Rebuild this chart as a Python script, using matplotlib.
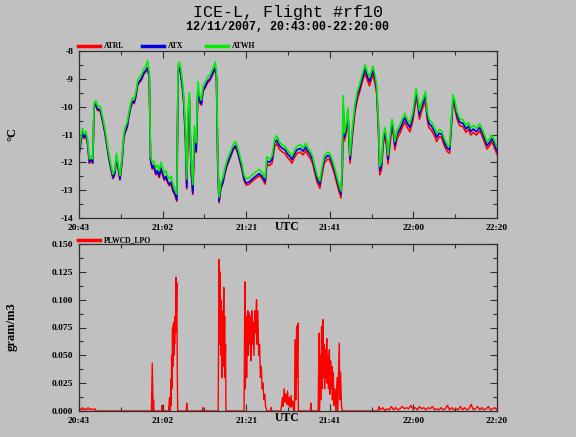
import matplotlib
matplotlib.use("Agg")
import matplotlib.pyplot as plt
from matplotlib.lines import Line2D
from matplotlib.ticker import MultipleLocator, FormatStrFormatter
import numpy as np

# ---------------- data ----------------
TITLE = "ICE-L, Flight #rf10"
SUBTITLE = "12/11/2007, 20:43:00-22:20:00"
TICK_LABELS = ["20:43", "21:02", "21:21", "21:41", "22:00", "22:20"]
SERIES_TOP = ["ATRL", "ATX", "ATWH"]
SERIES_BOT = ["PLWCD_LPO"]

# minutes after 20:43
T_TEMP = [
    0.0, 0.4, 0.8, 1.2, 1.6, 2.0, 2.4, 2.8, 3.2, 3.5,
    3.9, 4.3, 4.9, 5.5, 6.0, 6.4, 6.9, 7.4, 7.9, 8.3,
    8.7, 9.1, 9.5, 10.0, 10.4, 10.7, 11.2, 11.6, 12.0, 12.4,
    12.8, 13.2, 13.6, 14.0, 14.5, 15.0, 15.5, 15.9, 16.3, 16.6,
    17.0, 17.4, 17.8, 18.2, 18.6, 19.0, 19.4, 19.8, 20.2, 20.6,
    21.0, 21.4, 21.8, 22.2, 22.7, 23.0, 23.3, 23.6, 24.0, 24.3,
    24.7, 25.0, 25.3, 25.6, 26.0, 26.4, 26.8, 27.2, 27.6, 28.0,
    28.4, 28.8, 29.2, 29.8, 30.4, 31.0, 31.6, 31.9, 32.2, 32.5,
    32.9, 33.4, 33.8, 34.3, 34.8, 35.3, 35.8, 36.3, 36.8, 37.3,
    37.8, 38.3, 38.8, 39.5, 40.2, 41.0, 41.8, 42.5, 43.2, 43.6,
    44.2, 44.8, 45.4, 45.9, 46.5, 47.2, 47.8, 48.4, 49.0, 49.4,
    50.0, 50.6, 51.3, 52.0, 52.6, 53.1, 53.6, 54.2, 54.8, 55.3,
    55.9, 56.4, 56.9, 57.4, 57.8, 58.2, 58.7, 59.3, 59.8, 60.3,
    60.8, 61.1, 61.3, 61.6, 62.0, 62.4, 62.9, 63.4, 64.0, 64.6,
    65.2, 65.7, 66.1, 66.4, 66.9, 67.4, 67.8, 68.2, 68.7, 69.1,
    69.5, 69.8, 70.2, 70.6, 71.0, 71.4, 71.7, 72.1, 72.6, 73.0,
    73.3, 73.8, 74.5, 75.0, 75.6, 76.2, 76.8, 77.4, 77.9, 78.2,
    78.6, 79.0, 79.5, 80.0, 80.4, 80.8, 81.2, 81.8, 82.5, 83.0,
    83.6, 84.2, 84.8, 85.5, 86.0, 86.4, 86.8, 87.2, 87.7, 88.3,
    89.1, 89.8, 90.4, 90.9, 91.5, 92.2, 93.0, 93.6, 94.2, 94.7,
    95.2, 95.8, 96.3, 97.0,
]

ATX = [
    -11.70, -11.30, -10.90, -11.10, -11.00, -11.30, -12.00, -11.90, -12.00, -10.00,
    -9.90, -10.10, -10.10, -10.50, -10.90, -11.30, -11.80, -12.20, -12.55, -12.40,
    -11.80, -12.20, -12.60, -11.90, -11.10, -10.90, -10.70, -10.30, -10.00, -9.80,
    -9.85, -9.60, -9.20, -9.10, -9.00, -8.80, -8.70, -8.60, -8.90, -11.90,
    -12.20, -12.10, -12.40, -12.30, -12.50, -12.20, -12.40, -12.60, -12.50, -12.70,
    -12.80, -12.70, -13.00, -13.10, -13.35, -8.70, -8.60, -8.80, -9.30, -9.80,
    -11.10, -12.90, -10.50, -9.70, -12.20, -13.10, -11.00, -11.60, -9.30, -9.80,
    -9.90, -9.40, -9.30, -9.10, -9.00, -8.80, -8.60, -8.90, -12.00, -13.40,
    -12.90, -12.70, -12.40, -12.10, -11.90, -11.70, -11.50, -11.40, -11.60, -11.90,
    -12.20, -12.60, -12.75, -12.70, -12.60, -12.50, -12.40, -12.50, -12.70, -11.95,
    -12.00, -11.90, -11.30, -11.20, -11.40, -11.50, -11.55, -11.70, -11.80, -11.90,
    -11.70, -11.55, -11.50, -11.60, -11.45, -11.60, -11.70, -11.90, -12.30, -12.60,
    -12.80, -12.30, -11.90, -11.80, -11.75, -11.80, -12.00, -12.30, -12.60, -12.90,
    -13.15, -12.20, -10.00, -11.10, -10.80, -10.20, -11.90, -11.00, -10.10, -9.60,
    -9.30, -9.00, -8.80, -8.65, -8.90, -9.10, -8.90, -8.70, -9.00, -9.40,
    -10.80, -12.30, -12.10, -11.20, -10.90, -11.30, -11.90, -11.30, -10.60, -10.90,
    -11.40, -11.00, -10.80, -10.60, -10.40, -10.60, -10.75, -10.40, -9.90, -9.50,
    -9.80, -10.30, -10.00, -9.80, -9.60, -10.30, -10.60, -10.70, -10.90, -11.10,
    -10.95, -11.00, -11.30, -11.50, -11.55, -10.60, -9.70, -9.90, -10.30, -10.55,
    -10.60, -10.80, -10.70, -10.90, -10.80, -10.90, -10.75, -10.95, -11.20, -11.40,
    -11.30, -11.15, -11.30, -11.60,
]

ATWH = [
    -11.58, -11.18, -10.78, -10.98, -10.88, -11.18, -11.88, -11.78, -11.88, -9.85,
    -9.78, -9.98, -9.98, -10.38, -10.78, -11.18, -11.68, -12.08, -12.43, -12.28,
    -11.68, -12.08, -12.48, -11.78, -10.98, -10.75, -10.55, -10.18, -9.88, -9.68,
    -9.73, -9.48, -9.08, -8.95, -8.85, -8.65, -8.55, -8.35, -8.75, -11.75,
    -12.00, -11.95, -12.20, -12.10, -12.30, -12.00, -12.20, -12.40, -12.30, -12.50,
    -12.60, -12.50, -12.80, -12.90, -13.15, -8.50, -8.40, -8.60, -9.10, -9.60,
    -10.80, -12.60, -10.20, -9.50, -11.90, -12.80, -10.70, -11.30, -9.10, -9.60,
    -9.75, -9.25, -9.15, -8.95, -8.85, -8.65, -8.40, -8.75, -11.80, -13.25,
    -12.75, -12.55, -12.25, -11.95, -11.75, -11.55, -11.35, -11.25, -11.45, -11.75,
    -12.05, -12.45, -12.60, -12.55, -12.45, -12.35, -12.25, -12.35, -12.55, -11.80,
    -11.88, -11.78, -11.15, -11.05, -11.27, -11.38, -11.42, -11.58, -11.68, -11.78,
    -11.58, -11.43, -11.35, -11.48, -11.32, -11.48, -11.58, -11.78, -12.18, -12.48,
    -12.68, -12.18, -11.78, -11.68, -11.63, -11.68, -11.88, -12.18, -12.48, -12.78,
    -13.03, -12.00, -9.60, -10.95, -10.65, -10.05, -11.75, -10.85, -9.95, -9.45,
    -9.15, -8.85, -8.65, -8.50, -8.75, -8.95, -8.75, -8.55, -8.85, -9.25,
    -10.60, -12.15, -11.95, -11.05, -10.75, -11.15, -11.75, -11.15, -10.45, -10.75,
    -11.25, -10.85, -10.65, -10.45, -10.25, -10.45, -10.60, -10.25, -9.75, -9.35,
    -9.65, -10.15, -9.85, -9.65, -9.45, -10.15, -10.45, -10.55, -10.75, -10.95,
    -10.82, -10.87, -11.17, -11.37, -11.42, -10.45, -9.57, -9.77, -10.17, -10.42,
    -10.47, -10.67, -10.57, -10.77, -10.67, -10.77, -10.62, -10.82, -11.07, -11.27,
    -11.17, -11.02, -11.17, -11.47,
]

ATRL = [
    -11.74, -11.34, -10.94, -11.14, -11.04, -11.34, -12.04, -11.94, -12.04, -10.04,
    -9.94, -10.14, -10.14, -10.54, -10.94, -11.34, -11.84, -12.24, -12.59, -12.44,
    -11.84, -12.24, -12.64, -11.94, -11.14, -10.94, -10.74, -10.34, -10.04, -9.84,
    -9.89, -9.64, -9.24, -9.14, -9.04, -8.84, -8.74, -8.64, -8.94, -11.94,
    -12.25, -12.15, -12.45, -12.35, -12.55, -12.25, -12.45, -12.65, -12.55, -12.75,
    -12.85, -12.75, -13.05, -13.15, -13.40, -8.75, -8.65, -8.85, -9.35, -9.85,
    -11.15, -12.95, -10.55, -9.75, -12.25, -13.15, -11.05, -11.65, -9.35, -9.85,
    -9.95, -9.45, -9.35, -9.15, -9.05, -8.85, -8.65, -8.95, -12.05, -13.45,
    -12.95, -12.75, -12.45, -12.15, -11.95, -11.75, -11.55, -11.45, -11.65, -11.95,
    -12.25, -12.65, -12.82, -12.78, -12.68, -12.58, -12.48, -12.58, -12.78, -12.05,
    -12.12, -12.03, -11.43, -11.33, -11.53, -11.63, -11.68, -11.83, -11.93, -12.03,
    -11.83, -11.68, -11.63, -11.73, -11.58, -11.73, -11.83, -12.03, -12.43, -12.73,
    -12.93, -12.43, -12.03, -11.93, -11.88, -11.93, -12.13, -12.43, -12.73, -13.03,
    -13.28, -12.33, -10.15, -11.23, -10.93, -10.33, -12.03, -11.13, -10.23, -9.73,
    -9.43, -9.13, -8.93, -8.80, -9.05, -9.25, -9.05, -8.85, -9.15, -9.55,
    -10.93, -12.45, -12.25, -11.35, -11.05, -11.45, -12.05, -11.45, -10.75, -11.05,
    -11.55, -11.15, -10.95, -10.75, -10.55, -10.75, -10.90, -10.55, -10.05, -9.65,
    -9.95, -10.45, -10.15, -9.95, -9.75, -10.45, -10.75, -10.85, -11.05, -11.25,
    -11.07, -11.12, -11.42, -11.62, -11.67, -10.72, -9.82, -10.02, -10.42, -10.67,
    -10.72, -10.92, -10.82, -11.02, -10.92, -11.02, -10.87, -11.07, -11.32, -11.52,
    -11.42, -11.27, -11.42, -11.72,
]

LWC_T = [
    0.0, 0.2, 0.5, 0.8, 1.1, 1.4, 1.8, 2.1, 2.5, 2.9, 3.3, 3.7, 4.0, 4.3,
    16.8, 17.0, 17.2, 17.3, 17.4,
    19.2, 19.3, 19.4,
    20.8, 21.0, 21.2, 21.3, 21.4, 21.5, 21.6, 21.7, 21.8, 21.9, 22.0, 22.1,
    22.2, 22.3, 22.4, 22.5, 22.6, 22.7, 22.8, 22.9,
    24.9, 25.0, 25.1,
    28.6, 28.7, 28.8,
    32.3, 32.5, 32.6, 32.7, 32.8, 32.9, 33.0, 33.1, 33.2, 33.3, 33.4, 33.6,
    33.7, 33.8, 33.9, 34.0, 34.1,
    38.3, 38.5, 38.6, 38.7, 38.8, 38.9, 39.0, 39.2, 39.3, 39.5, 39.6, 39.8,
    39.9, 40.1, 40.2, 40.4, 40.6, 40.8, 41.0, 41.2, 41.3, 41.5, 41.7, 41.9,
    42.1, 42.3, 42.5, 42.7, 42.9, 43.1, 43.3, 43.6,
    44.5, 44.6, 44.7,
    46.8, 47.0, 47.2, 47.4, 47.6, 47.8, 48.0, 48.2, 48.4, 48.6, 48.8, 49.0,
    49.2, 49.4, 49.6, 49.8,
    50.0, 50.2, 50.3, 50.5, 50.6, 50.8, 50.9,
    53.7, 53.8, 53.9,
    55.5, 55.7, 55.8, 56.0, 56.1, 56.3, 56.4, 56.6, 56.7, 56.9, 57.0, 57.2,
    57.3, 57.5, 57.6, 57.8, 57.9, 58.1, 58.2, 58.4, 58.5, 58.7, 58.8, 59.0,
    59.2, 59.4, 59.6, 59.9, 60.0, 60.4, 60.5, 60.7, 60.9, 61.1,
    69.4, 69.6, 70.0, 70.5, 71.0, 71.5, 72.0, 72.5, 73.0, 73.5, 74.0, 74.5,
    75.0, 75.5, 76.0, 76.5, 77.0, 77.5, 78.0, 78.5, 79.0, 79.5, 80.0, 80.5,
    81.0, 81.5, 82.0, 82.5, 83.0, 83.5, 84.0, 84.5, 85.0, 85.5, 86.0, 86.5,
    87.0, 87.5, 88.0, 88.5, 89.0, 89.5, 90.0, 90.5, 91.0, 91.5, 92.0, 92.5,
    93.0, 93.5, 94.0, 94.5, 95.0, 95.5, 96.0, 96.5, 97.0,
]

LWC_V = [
    0.0, 0.002, 0.001, 0.003, 0.001, 0.002, 0.001, 0.003, 0.001, 0.002, 0.001, 0.002, 0.0, 0.0,
    0.0, 0.043, 0.0, 0.010, 0.0,
    0.0, 0.005, 0.0,
    0.0, 0.012, 0.0, 0.028, 0.005, 0.050, 0.020, 0.075, 0.040, 0.078, 0.050, 0.080,
    0.060, 0.085, 0.070, 0.120, 0.090, 0.115, 0.040, 0.0,
    0.0, 0.007, 0.0,
    0.0, 0.003, 0.0,
    0.0, 0.136, 0.060, 0.125, 0.070, 0.100, 0.050, 0.085, 0.030, 0.090, 0.040, 0.111,
    0.050, 0.085, 0.030, 0.060, 0.0,
    0.0, 0.116, 0.020, 0.060, 0.085, 0.030, 0.070, 0.090, 0.050, 0.088, 0.060, 0.085,
    0.045, 0.090, 0.060, 0.080, 0.050, 0.090, 0.070, 0.100, 0.060, 0.090, 0.050, 0.060,
    0.030, 0.040, 0.020, 0.025, 0.010, 0.015, 0.004, 0.0,
    0.0, 0.003, 0.0,
    0.0, 0.005, 0.012, 0.004, 0.020, 0.008, 0.015, 0.006, 0.018, 0.005, 0.012, 0.003,
    0.014, 0.004, 0.009, 0.0,
    0.0, 0.064, 0.010, 0.076, 0.030, 0.079, 0.0,
    0.0, 0.007, 0.0,
    0.0, 0.070, 0.0, 0.050, 0.010, 0.076, 0.020, 0.082, 0.030, 0.060, 0.020, 0.055,
    0.030, 0.065, 0.025, 0.050, 0.020, 0.055, 0.015, 0.045, 0.020, 0.040, 0.010, 0.035,
    0.005, 0.020, 0.0, 0.030, 0.0, 0.061, 0.010, 0.035, 0.005, 0.0,
    0.0, 0.004, 0.001, 0.003, 0.0, 0.002, 0.001, 0.004, 0.001, 0.003, 0.001, 0.002,
    0.004, 0.002, 0.003, 0.002, 0.005, 0.002, 0.003, 0.001, 0.004, 0.002, 0.003, 0.001,
    0.003, 0.002, 0.004, 0.001, 0.002, 0.001, 0.003, 0.001, 0.002, 0.005, 0.001, 0.003,
    0.001, 0.002, 0.001, 0.004, 0.001, 0.003, 0.001, 0.002, 0.006, 0.001, 0.002, 0.004,
    0.001, 0.003, 0.001, 0.002, 0.004, 0.001, 0.002, 0.003, 0.001,
]

# ---------------- style ----------------
BG = "#c0c0c0"
C_RED = "#ff0000"
C_BLUE = "#0000e0"
C_GREEN = "#00ee00"
W, H = 576, 437
TICK_FONT = dict(family="Liberation Serif", weight="bold", size=6.8)

fig = plt.figure(figsize=(W / 100, H / 100), dpi=100, facecolor=BG)


def fx(px):
    return px / W


def fy(py):
    return 1 - py / H


ax1 = fig.add_axes([fx(79), fy(218), fx(497) - fx(79), fy(51) - fy(218)], facecolor=BG)
ax2 = fig.add_axes([fx(79), fy(411), fx(497) - fx(79), fy(244) - fy(411)], facecolor=BG)

ax1.plot(T_TEMP, ATRL, color=C_RED, lw=1.2)
ax1.plot(T_TEMP, ATX, color=C_BLUE, lw=1.2)
ax1.plot(T_TEMP, ATWH, color=C_GREEN, lw=1.2)
ax2.plot(LWC_T, LWC_V, color=C_RED, lw=1.0)

ax1.set_ylim(-14, -8)
ax2.set_ylim(0, 0.15)
ax1.yaxis.set_major_locator(MultipleLocator(1))
ax1.yaxis.set_minor_locator(MultipleLocator(0.5))
ax1.yaxis.set_major_formatter(FormatStrFormatter("%d"))
ax2.yaxis.set_major_locator(MultipleLocator(0.025))
ax2.yaxis.set_minor_locator(MultipleLocator(0.0125))
ax2.yaxis.set_major_formatter(FormatStrFormatter("%.3f"))

t_end = T_TEMP[-1]
major_pos = np.linspace(0, t_end, len(TICK_LABELS))
minor_pos = (major_pos[:-1] + major_pos[1:]) / 2

for ax in (ax1, ax2):
    ax.set_xlim(0, t_end)
    ax.set_xticks(major_pos)
    ax.set_xticklabels(TICK_LABELS)
    ax.set_xticks(minor_pos, minor=True)
    ax.tick_params(which="both", direction="in", top=True, right=True,
                   color="#303030", width=0.8)
    ax.tick_params(which="major", length=5, pad=4)
    ax.tick_params(which="minor", length=3)
    for lab in ax.get_xticklabels() + ax.get_yticklabels():
        lab.set_fontfamily(TICK_FONT["family"])
        lab.set_fontweight("bold")
        lab.set_fontsize(TICK_FONT["size"])
    for sp in ax.spines.values():
        sp.set_color("#303030")
        sp.set_linewidth(0.9)

# titles
fig.text(0.5, fy(13), TITLE, ha="center", va="center",
         family="Liberation Mono", size=12)
fig.text(0.5, fy(27), SUBTITLE, ha="center", va="center",
         family="Liberation Mono", weight="bold", size=8.4)

# axis labels
fig.text(fx(287), fy(227), "UTC", ha="center", va="center",
         family="Liberation Serif", weight="bold", size=8.5)
fig.text(fx(287), fy(418), "UTC", ha="center", va="center",
         family="Liberation Serif", weight="bold", size=8.5)
fig.text(fx(12), fy(134), "°C", ha="center", va="center", rotation=90,
         family="Liberation Serif", weight="bold", size=9)
fig.text(fx(12), fy(327), "gram/m3", ha="center", va="center", rotation=90,
         family="Liberation Serif", weight="bold", size=9)

# custom legends
def legend_entry(x0, y, color, label):
    fig.add_artist(Line2D([fx(x0), fx(x0 + 22)], [fy(y), fy(y)], color=color, lw=2.5))
    fig.text(fx(x0 + 26), fy(y), label, ha="left", va="center",
             family="Liberation Serif", weight="bold", size=5.5)

legend_entry(78, 46, C_RED, SERIES_TOP[0])
legend_entry(142, 46, C_BLUE, SERIES_TOP[1])
legend_entry(206, 46, C_GREEN, SERIES_TOP[2])
legend_entry(78, 240, C_RED, SERIES_BOT[0])

fig.savefig("out.png", dpi=100, facecolor=BG)
